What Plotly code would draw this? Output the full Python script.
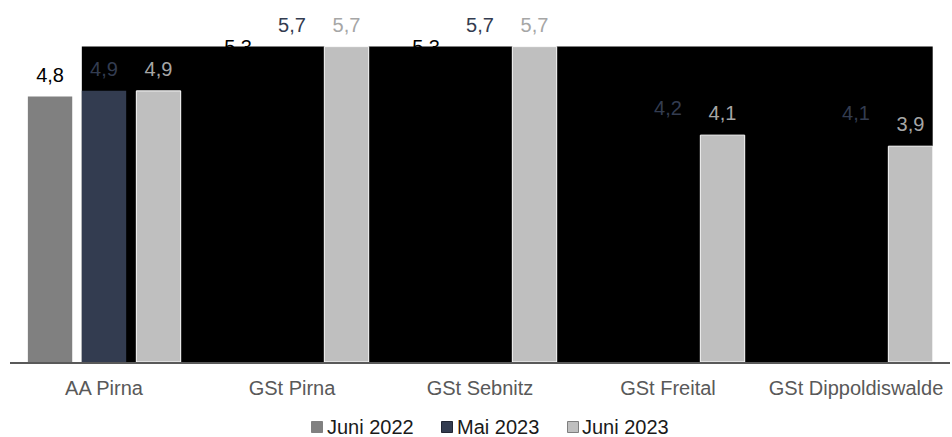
import plotly.graph_objects as go

# ---- data ----
categories = ["AA Pirna", "GSt Pirna", "GSt Sebnitz", "GSt Freital", "GSt Dippoldiswalde"]
juni_2022 = [4.8, 5.3, 5.3, 4.4, 4.3]
mai_2023 = [4.9, 5.7, 5.7, 4.2, 4.1]
juni_2023 = [4.9, 5.7, 5.7, 4.1, 3.9]
series_names = ["Juni 2022", "Mai 2023", "Juni 2023"]

# ---- styles ----
FONT = "Arial, 'Liberation Sans', sans-serif"
C_J22 = "#808080"
C_MAI = "#333c50"
C_J23 = "#bfbfbf"
C_J22_TXT = "#000000"
C_MAI_TXT = "#333c50"
C_J23_TXT = "#a6a6a6"
BAR_W = 0.236
OFF = {"j22": -0.405, "mai": -0.118, "j23": 0.172}

W, H = 952, 437
ML, MR, MT, MB = 10, 2, 30, 75

xs = list(range(len(categories)))


def fmt(v):
    return f"{v:.1f}".replace(".", ",")


def px_to_paper(px, py):
    return (px - ML) / (W - ML - MR), (H - MB - py) / (H - MT - MB)


def label_trace(values, offset, color, xaxis, yaxis):
    return go.Scatter(
        x=[x + offset + BAR_W / 2 for x in xs], y=values,
        text=[fmt(v) for v in values],
        mode="markers+text", textposition="top center",
        marker=dict(size=14, color="rgba(0,0,0,0)"),
        textfont=dict(size=20, color=color, family=FONT),
        cliponaxis=False, showlegend=False, hoverinfo="skip",
        xaxis=xaxis, yaxis=yaxis,
    )


fig = go.Figure()

# base layer: Juni 2022 bars and labels
fig.add_trace(go.Bar(
    x=xs, y=juni_2022, name=series_names[0], width=BAR_W, offset=OFF["j22"],
    marker=dict(color=C_J22, line=dict(width=0)), showlegend=False,
    xaxis="x", yaxis="y",
))
fig.add_trace(label_trace(juni_2022, OFF["j22"], C_J22_TXT, "x", "y"))

# black block spanning the series area
ymax = max(max(juni_2022), max(mai_2023), max(juni_2023))
bx0 = xs[0] + OFF["mai"]
bx1 = xs[-1] + OFF["j23"] + BAR_W
fig.add_trace(go.Scatter(
    x=[bx0, bx1, bx1, bx0, bx0], y=[0, 0, ymax, ymax, 0],
    fill="toself", fillcolor="#000000", mode="lines",
    line=dict(width=0, color="#000000"), showlegend=False, hoverinfo="skip",
    xaxis="x", yaxis="y",
))

# overlay layer: Mai 2023 and Juni 2023
mai_colors = [C_MAI] + ["rgba(0,0,0,0)"] * (len(categories) - 1)
fig.add_trace(go.Bar(
    x=xs, y=mai_2023, name=series_names[1], width=BAR_W, offset=OFF["mai"],
    marker=dict(color=mai_colors, line=dict(width=0)), showlegend=False,
    xaxis="x2", yaxis="y2",
))
fig.add_trace(go.Bar(
    x=xs, y=juni_2023, name=series_names[2], width=BAR_W, offset=OFF["j23"],
    marker=dict(color=C_J23, line=dict(width=1, color="#ffffff")), showlegend=False,
    xaxis="x2", yaxis="y2",
))
fig.add_trace(label_trace(mai_2023, OFF["mai"], C_MAI_TXT, "x2", "y2"))
fig.add_trace(label_trace(juni_2023, OFF["j23"], C_J23_TXT, "x2", "y2"))

# legend (square key + label), positioned in pixels
legend_colors = [C_J22, C_MAI, C_J23]
legend_borders = [C_J22, "#222633", "#7f7f7f"]
legend_sq_px = [311.5, 441.5, 567.5]
legend_txt_px = [325, 455, 580]
SQ = 11
annotations, shapes = [], []
for c, bc, n, sx, tx in zip(legend_colors, legend_borders, series_names, legend_sq_px, legend_txt_px):
    x0, y1 = px_to_paper(sx, 421.5)
    x1, y0 = px_to_paper(sx + SQ, 421.5 + SQ)
    shapes.append(dict(
        type="rect", xref="paper", yref="paper", x0=x0, x1=x1, y0=y0, y1=y1,
        fillcolor=c, line=dict(color=bc, width=1), layer="above",
    ))
    tx_p, ty_p = px_to_paper(tx, 427)
    annotations.append(dict(
        text=n, xref="paper", yref="paper", x=tx_p, y=ty_p,
        xanchor="left", yanchor="middle", showarrow=False,
        font=dict(size=20, color="#1a1a1a", family=FONT),
    ))

fig.update_layout(
    width=W, height=H, autosize=False,
    margin=dict(l=ML, r=MR, t=MT, b=MB),
    paper_bgcolor="#ffffff", plot_bgcolor="#ffffff",
    font=dict(family=FONT, size=20, color="#595959"),
    barmode="overlay",
    showlegend=False,
    xaxis=dict(
        range=[-0.5, 4.5], tickmode="array", tickvals=xs, ticktext=categories,
        showline=True, linecolor="#595959", linewidth=2, ticks="",
        showgrid=False, zeroline=False, ticklabelstandoff=7,
        tickfont=dict(size=20, color="#595959", family=FONT),
    ),
    yaxis=dict(range=[0, 6.0], visible=False, showgrid=False, zeroline=False),
    xaxis2=dict(range=[-0.5, 4.5], overlaying="x", visible=False, showgrid=False, zeroline=False),
    yaxis2=dict(range=[0, 6.0], overlaying="y", visible=False, showgrid=False, zeroline=False),
    annotations=annotations,
    shapes=shapes,
)

fig.write_html("out.html")
